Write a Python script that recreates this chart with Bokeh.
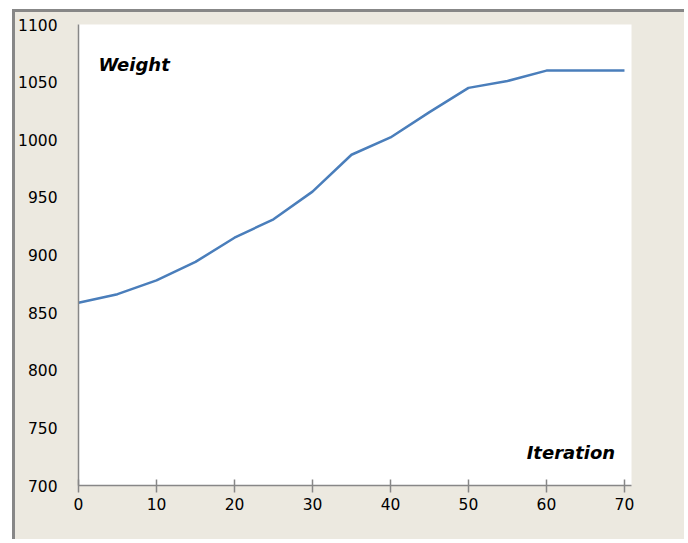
from bokeh.plotting import figure
from bokeh.models import Range1d, Label, FixedTicker
from bokeh.embed import file_html
from bokeh.resources import INLINE

# Data
iterations = [0, 5, 10, 15, 20, 25, 30, 35, 40, 45, 50, 55, 60, 65, 70]
weights = [858.5, 866, 878, 894, 915, 931, 955, 987, 1002, 1024, 1045, 1051, 1060, 1060, 1060]
x_ticks = [0, 10, 20, 30, 40, 50, 60, 70]
y_ticks = [700, 750, 800, 850, 900, 950, 1000, 1050, 1100]

BEIGE = "#ECE9E0"
GRAY = "#878787"
FONT = "DejaVu Sans"

W, H = 672, 530
p = figure(width=W, height=H, output_backend="svg", toolbar_location=None,
           x_range=Range1d(0, 70.9), y_range=Range1d(700, 1100),
           min_border_left=62, min_border_right=W - 616, min_border_top=12,
           min_border_bottom=H - 473)
p.background_fill_color = "white"
p.border_fill_color = BEIGE
p.outline_line_color = None
p.xgrid.grid_line_color = None
p.ygrid.grid_line_color = None
p.margin = (9, 0, 0, 12)
p.styles = {"border-top": "3px solid " + GRAY, "border-left": "3px solid " + GRAY,
            "background-color": BEIGE}

p.line(iterations, weights, line_color="#4A7EBB", line_width=2.5)

# x axis
xa = p.xaxis[0]
xa.ticker = FixedTicker(ticks=x_ticks)
xa.axis_line_color = GRAY
xa.axis_line_width = 1.5
xa.major_tick_line_color = GRAY
xa.major_tick_line_width = 1.5
xa.major_tick_in = 6
xa.major_tick_out = 7
xa.minor_tick_line_color = None
xa.major_label_text_font = FONT
xa.major_label_text_font_size = "15.5px"
xa.major_label_text_color = "#000000"
xa.major_label_standoff = 5

# y axis
ya = p.yaxis[0]
ya.ticker = FixedTicker(ticks=y_ticks)
ya.axis_line_color = GRAY
ya.axis_line_width = 1.5
ya.major_tick_line_color = None
ya.major_tick_in = 0
ya.major_tick_out = 0
ya.minor_tick_line_color = None
ya.major_label_text_font = FONT
ya.major_label_text_font_size = "15.5px"
ya.major_label_text_color = "#000000"
ya.major_label_standoff = 21

# labels inside plot
p.add_layout(Label(x=2.55, y=1065.5, text="Weight", text_font=FONT, text_font_size="18px",
                   text_font_style="bold italic", text_baseline="middle", text_align="left",
                   text_color="black"))
p.add_layout(Label(x=68.8, y=728.5, text="Iteration", text_font=FONT, text_font_size="18px",
                   text_font_style="bold italic", text_baseline="middle", text_align="right",
                   text_color="black"))

open("out.html", "w").write(file_html(p, INLINE))
